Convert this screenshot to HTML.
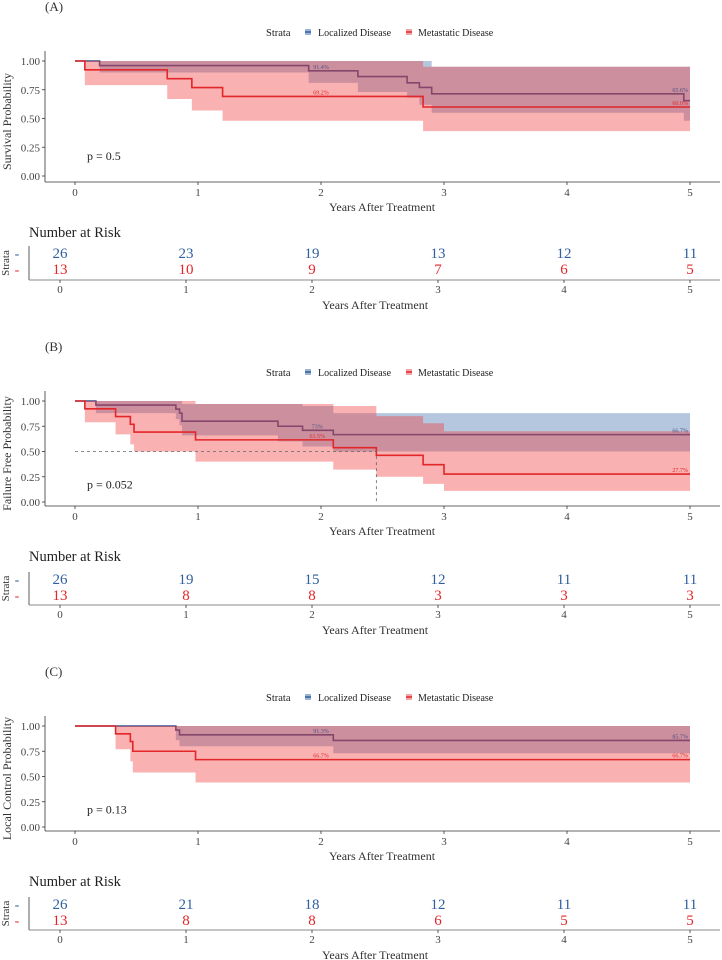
<!DOCTYPE html>
<html><head><meta charset="utf-8"><style>
html,body{margin:0;padding:0;background:#fff;}
svg{display:block;font-family:"Liberation Serif",serif;}
</style></head><body>
<svg id="chart" width="722" height="960" viewBox="0 0 722 960" xmlns="http://www.w3.org/2000/svg"></svg>
<script>
// ---- Panel A data (overall survival) ----
const aLocT=[0,0.2,1.9,2.3,2.7,2.8,2.9,4.95];
const aLocS=[1,0.96,0.915,0.865,0.81,0.77,0.715,0.655];
const aLocLo=[1,0.9,0.81,0.73,0.68,0.62,0.55,0.48];
const aLocUp=[1,1,1,1,1,1,0.95,0.95];
const aMetT=[0,0.08,0.75,0.95,1.2,2.83];
const aMetS=[1,0.923,0.846,0.769,0.692,0.60];
const aMetLo=[1,0.79,0.67,0.57,0.48,0.39];
const aMetUp=[1,1,1,1,1,0.95];
const aRiskLoc=[26,23,19,13,12,11];
const aRiskMet=[13,10,9,7,6,5];
// ---- Panel B data (failure free) ----
const bLocT=[0,0.17,0.82,0.85,0.87,1.65,1.85,2.1];
const bLocS=[1,0.96,0.92,0.88,0.80,0.75,0.71,0.667];
const bLocLo=[1,0.88,0.82,0.76,0.66,0.6,0.55,0.5];
const bLocUp=[1,1,1,1,0.97,0.97,0.95,0.88];
const bMetT=[0,0.08,0.33,0.45,0.48,0.98,2.1,2.45,2.83,3.0];
const bMetS=[1,0.923,0.846,0.769,0.692,0.615,0.538,0.462,0.369,0.277];
const bMetLo=[1,0.79,0.67,0.57,0.5,0.4,0.32,0.25,0.18,0.11];
const bMetUp=[1,1,1,1,1,0.97,0.95,0.85,0.78,0.7];
const bRiskLoc=[26,19,15,12,11,11];
const bRiskMet=[13,8,8,3,3,3];
const bMedian=2.45;
// ---- Panel C data (local control) ----
const cLocT=[0,0.82,0.85,2.1];
const cLocS=[1,0.96,0.913,0.857];
const cLocLo=[1,0.86,0.8,0.73];
const cLocUp=[1,1,1,1];
const cMetT=[0,0.33,0.45,0.47,0.98];
const cMetS=[1,0.923,0.846,0.75,0.667];
const cMetLo=[1,0.77,0.65,0.54,0.44];
const cMetUp=[1,1,1,1,1];
const cRiskLoc=[26,21,18,12,11,11];
const cRiskMet=[13,8,8,6,5,5];
const yTicks=["0.00","0.25","0.50","0.75","1.00"];
const xTicks=["0","1","2","3","4","5"];

const NS="http://www.w3.org/2000/svg";
const svg=document.getElementById('chart');
function mk(tag,attrs,parent,text){const e=document.createElementNS(NS,tag);for(const k in attrs)e.setAttribute(k,attrs[k]);if(text!==undefined)e.textContent=text;(parent||svg).appendChild(e);return e;}
const BLUE="#2e5f9e",RED="#e2262a",LINEB="#4c4f80";

function stepPath(T,S,X,Y,tEnd){let d="M"+X(T[0])+","+Y(S[0]);for(let i=1;i<T.length;i++){d+="H"+X(T[i])+"V"+Y(S[i]);}d+="H"+X(tEnd);return d;}
function bandPath(T,Lo,Up,X,Y,tEnd){let d="M"+X(T[0])+","+Y(Up[0]);for(let i=1;i<T.length;i++){d+="H"+X(T[i])+"V"+Y(Up[i]);}d+="H"+X(tEnd)+"V"+Y(Lo[Lo.length-1]);for(let i=T.length-1;i>=1;i--){d+="H"+X(T[i])+"V"+Y(Lo[i-1]);}d+="H"+X(T[0])+"Z";return d;}

function panel(p){
  const g=mk('g',{});
  
  
  const X=t=>75+t*(690-75)/5;
  const Y=v=>p.bottom-v*(p.bottom-p.top);
  const lab=mk('text',{x:45,y:p.labelY,'font-size':13,fill:'#333'},g,'('+p.id.toUpperCase()+')');
  
  // legend
  const lg=mk('g',{},g);
  
  mk('text',{x:266,y:p.legendY+4,'font-size':10.5,fill:'#222'},lg,'Strata');
  mk('rect',{x:305,y:p.legendY-3,width:6,height:6,fill:'#9db4d4'},lg);
  mk('line',{x1:305,x2:311,y1:p.legendY,y2:p.legendY,stroke:BLUE,'stroke-width':1.5},lg);
  mk('text',{x:318,y:p.legendY+4,'font-size':10,fill:'#222'},lg,'Localized Disease');
  mk('rect',{x:406,y:p.legendY-3,width:6,height:6,fill:'#f4a6a6'},lg);
  mk('line',{x1:406,x2:412,y1:p.legendY,y2:p.legendY,stroke:RED,'stroke-width':1.5},lg);
  mk('text',{x:418,y:p.legendY+4,'font-size':10,fill:'#222'},lg,'Metastatic Disease');
  // bands & lines
  const bb=mk('path',{d:bandPath(p.locT,p.locLo,p.locUp,X,Y,5),fill:'rgba(70,115,175,0.4)'},g);
  
  const bl=mk('path',{d:stepPath(p.locT,p.locS,X,Y,5),fill:'none',stroke:'#3c4f8c','stroke-width':1.6},g);
  
  const rb=mk('path',{d:bandPath(p.metT,p.metLo,p.metUp,X,Y,5),fill:'rgba(240,60,60,0.4)'},g);
  
  const rl=mk('path',{d:stepPath(p.metT,p.metS,X,Y,5),fill:'none',stroke:RED,'stroke-width':1.6},g);
  
  if(p.median!==undefined){
    const md=mk('path',{d:"M"+X(0)+","+Y(0.5)+"H"+X(p.median)+"V"+Y(0),fill:'none',stroke:'#666','stroke-width':0.8,'stroke-dasharray':'3,3'},g);
    
  }
  // value labels
  p.labels.forEach(l=>{const t=mk('text',{x:X(l[0]),y:Y(l[1])-2,'font-size':6,fill:l[3],'text-anchor':'middle'},g,l[2]);
    });
  // axes
  mk('line',{x1:45,x2:45,y1:p.top-10,y2:p.axisY,stroke:'#333','stroke-width':0.8},g);
  mk('line',{x1:45,x2:720,y1:p.axisY,y2:p.axisY,stroke:'#333','stroke-width':0.8},g);
  yTicks.forEach((s,i)=>{const v=i/4;mk('line',{x1:42,x2:45,y1:Y(v),y2:Y(v),stroke:'#333','stroke-width':0.8},g);
    const t=mk('text',{x:40,y:Y(v)+4,'font-size':11,'text-anchor':'end',fill:'#444'},g,s);
    });
  xTicks.forEach((s,i)=>{mk('line',{x1:X(i),x2:X(i),y1:p.axisY,y2:p.axisY+3,stroke:'#333','stroke-width':0.8},g);
    const t=mk('text',{x:X(i),y:p.axisY+14,'font-size':11,'text-anchor':'middle',fill:'#444'},g,s);
    });
  const xt=mk('text',{x:382,y:p.axisY+29,'font-size':12,'text-anchor':'middle',fill:'#333'},g,'Years After Treatment');
  
  const yc=(p.top+p.axisY)/2;
  const yt=mk('text',{x:0,y:0,'font-size':12,'text-anchor':'middle',fill:'#333',transform:'translate(11,'+yc+') rotate(-90)'},g,p.yTitle);
  
  const pv=mk('text',{x:87,y:Y(0.175)+4,'font-size':12,fill:'#222'},g,p.pval);
  
  // risk table
  const rt=mk('g',{},g);
  
  const RX=i=>60+i*(690-60)/5;
  mk('text',{x:29,y:p.narY,'font-size':14.5,fill:'#222'},rt,'Number at Risk');
  mk('line',{x1:29,x2:29,y1:p.row1-12,y2:p.raxis,stroke:'#333','stroke-width':0.8},rt);
  mk('line',{x1:29,x2:720,y1:p.raxis,y2:p.raxis,stroke:'#888','stroke-width':1},rt);
  mk('text',{x:17,y:p.row1,'font-size':14,fill:BLUE,'text-anchor':'middle'},rt,'-');
  mk('text',{x:17,y:p.row2,'font-size':14,fill:RED,'text-anchor':'middle'},rt,'-');
  mk('text',{x:0,y:0,'font-size':11,'text-anchor':'middle',fill:'#333',transform:'translate(9,'+((p.row1+p.raxis)/2-6)+') rotate(-90)'},rt,'Strata');
  p.riskLoc.forEach((n,i)=>{const t=mk('text',{x:RX(i),y:p.row1,'font-size':15,fill:BLUE,'text-anchor':'middle'},rt,n);
    });
  p.riskMet.forEach((n,i)=>{const t=mk('text',{x:RX(i),y:p.row2,'font-size':15,fill:RED,'text-anchor':'middle'},rt,n);
    });
  xTicks.forEach((s,i)=>{mk('line',{x1:RX(i),x2:RX(i),y1:p.raxis,y2:p.raxis+3,stroke:'#333','stroke-width':0.8},rt);
    mk('text',{x:RX(i),y:p.raxis+13,'font-size':11,'text-anchor':'middle',fill:'#444'},rt,s);});
  mk('text',{x:375,y:p.raxis+29,'font-size':12,'text-anchor':'middle',fill:'#333'},rt,'Years After Treatment');
}

panel({id:'a',top:61,bottom:176,axisY:182,labelY:11,legendY:32,narY:237,row1:258,row2:274,raxis:280,
  locT:aLocT,locS:aLocS,locLo:aLocLo,locUp:aLocUp,metT:aMetT,metS:aMetS,metLo:aMetLo,metUp:aMetUp,
  riskLoc:aRiskLoc,riskMet:aRiskMet,yTitle:'Survival Probability',pval:'p = 0.5',
  labels:[[2,0.915,'91.4%',LINEB],[2,0.692,'69.2%',RED],[4.92,0.715,'65.6%',LINEB],[4.92,0.6,'60.0%',RED]]});
panel({id:'b',top:401,bottom:502,axisY:506,labelY:351,legendY:372,narY:561,row1:584,row2:600,raxis:605,
  locT:bLocT,locS:bLocS,locLo:bLocLo,locUp:bLocUp,metT:bMetT,metS:bMetS,metLo:bMetLo,metUp:bMetUp,median:bMedian,
  riskLoc:bRiskLoc,riskMet:bRiskMet,yTitle:'Failure Free Probability',pval:'p = 0.052',
  labels:[[1.97,0.71,'73%',LINEB],[1.97,0.615,'61.5%',RED],[4.92,0.667,'66.7%',LINEB],[4.92,0.277,'27.7%',RED]]});
panel({id:'c',top:726,bottom:827,axisY:831,labelY:676,legendY:697,narY:886,row1:909,row2:925,raxis:930,
  locT:cLocT,locS:cLocS,locLo:cLocLo,locUp:cLocUp,metT:cMetT,metS:cMetS,metLo:cMetLo,metUp:cMetUp,
  riskLoc:cRiskLoc,riskMet:cRiskMet,yTitle:'Local Control Probability',pval:'p = 0.13',
  labels:[[2,0.913,'91.3%',LINEB],[2,0.667,'66.7%',RED],[4.92,0.857,'85.7%',LINEB],[4.92,0.667,'66.7%',RED]]});
</script>
</body></html>
